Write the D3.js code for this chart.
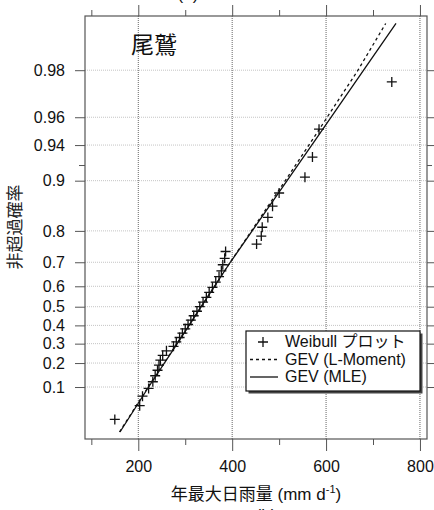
<!DOCTYPE html>
<meta charset="utf-8">
<title>尾鷲 年最大日雨量</title>
<script src="https://d3js.org/d3.v7.min.js"></script>
<style>
body { margin: 0; background: #fff; }
svg { display: block; font-family: "Liberation Sans", Arial, "Noto Sans CJK JP", sans-serif; }
text { fill: #111; }
.tick line { stroke: #555; }
</style>
<svg id="chart" width="434" height="510"></svg>
<script>
// Weibull plotting positions i/(n+1), n = 41, and the sorted annual maxima
var weibullProb = [0.0238, 0.0476, 0.0714, 0.0952, 0.1190, 0.1429, 0.1667, 0.1905, 0.2143, 0.2381,
    0.2619, 0.2857, 0.3095, 0.3333, 0.3571, 0.3810, 0.4048, 0.4286, 0.4524, 0.4762,
    0.5000, 0.5238, 0.5476, 0.5714, 0.5952, 0.6190, 0.6429, 0.6667, 0.6905, 0.7143,
    0.7381, 0.7619, 0.7857, 0.8095, 0.8333, 0.8571, 0.8810, 0.9048, 0.9286, 0.9524, 0.9762];
var weibullRain = [150, 203, 209, 222, 231, 236, 241, 244, 247, 252,
    260, 275, 281, 288, 294, 300, 306, 312, 318, 325,
    331, 338, 345, 351, 358, 365, 372, 377, 380, 384,
    386, 452, 462, 464, 476, 486, 500, 555, 571, 585, 740];

// fitted GEV curves, read at a few probabilities
var fitProb = [0.011, 0.1, 0.3, 0.5, 0.7, 0.9, 0.95, 0.98, 0.99];
var lmomRain = [160, 221, 282, 334, 396, 513, 581, 668, 727];
var mleRain = [161, 222, 283, 334, 396, 517, 588, 680, 749];

// axis ticks
var yTickProb = [0.1, 0.2, 0.3, 0.4, 0.5, 0.6, 0.7, 0.8, 0.9, 0.94, 0.96, 0.98];
var yTickLabels = ['0.1', '0.2', '0.3', '0.4', '0.5', '0.6', '0.7', '0.8', '0.9', '0.94', '0.96', '0.98'];
var yMinorProb = [0.92];
var xMajor = [200, 400, 600, 800];
var xMinor = [100, 300, 500, 700];

var L = 85, R = 427, T = 16, B = 439;
var gumbel = function(p) { return -Math.log(-Math.log(p)); };
var x = d3.scaleLinear().domain([86.5, 815]).range([L, R]);
var y = d3.scaleLinear().domain([-1.611, 4.712]).range([B, T]);
var yp = function(p) { return y(gumbel(p)); };

var svg = d3.select('#chart');

svg.append('clipPath').attr('id', 'plot-clip')
    .append('rect').attr('x', L).attr('y', T).attr('width', R - L).attr('height', B - T);

// grid
svg.append('g').selectAll('line')
    .data(yTickProb)
    .enter().append('line')
    .attr('x1', L).attr('x2', R)
    .attr('y1', yp).attr('y2', yp)
    .attr('stroke', '#c4c4c4')
    .attr('stroke-dasharray', '1,1');
svg.append('g').selectAll('line')
    .data(xMajor)
    .enter().append('line')
    .attr('x1', x).attr('x2', x)
    .attr('y1', T).attr('y2', B)
    .attr('stroke', '#666')
    .attr('stroke-dasharray', '1,1');

// axes
function drawAxis(axis, tx, ty) {
    var g = svg.append('g').attr('transform', 'translate(' + tx + ',' + ty + ')').call(axis);
    g.select('.domain').remove();
    g.selectAll('text').attr('font-size', 16).attr('font-family', null);
    return g;
}
var yMajorVals = yTickProb.map(gumbel);
drawAxis(d3.axisLeft(y).tickValues(yMajorVals).tickSize(10).tickPadding(10)
    .tickFormat(function(d, i) { return yTickLabels[i]; }), L, 0);
drawAxis(d3.axisLeft(y).tickValues(yMinorProb.map(gumbel)).tickSize(6).tickFormat(''), L, 0);
drawAxis(d3.axisRight(y).tickValues(yMajorVals).tickSize(9).tickFormat(''), R, 0);
drawAxis(d3.axisRight(y).tickValues(yMinorProb.map(gumbel)).tickSize(5).tickFormat(''), R, 0);
drawAxis(d3.axisBottom(x).tickValues(xMajor).tickSize(12).tickPadding(9.5).tickFormat(d3.format('d')), 0, B);
drawAxis(d3.axisBottom(x).tickValues(xMinor).tickSize(6).tickFormat(''), 0, B);
drawAxis(d3.axisTop(x).tickValues(xMajor).tickSize(11).tickFormat(''), 0, T);
drawAxis(d3.axisTop(x).tickValues(xMinor).tickSize(6).tickFormat(''), 0, T);

// frame
svg.append('rect')
    .attr('x', L).attr('y', T).attr('width', R - L).attr('height', B - T)
    .attr('fill', 'none').attr('stroke', '#555').attr('stroke-width', 1.2);

// fitted curves
var plot = svg.append('g').attr('clip-path', 'url(#plot-clip)');
var line = d3.line()
    .x(function(d) { return x(d[0]); })
    .y(function(d) { return yp(d[1]); });
plot.append('path')
    .datum(d3.zip(lmomRain, fitProb))
    .attr('d', line)
    .attr('fill', 'none').attr('stroke', '#111').attr('stroke-width', 1.3)
    .attr('stroke-dasharray', '3,3');
plot.append('path')
    .datum(d3.zip(mleRain, fitProb))
    .attr('d', line)
    .attr('fill', 'none').attr('stroke', '#111').attr('stroke-width', 1.3);

// Weibull plot
function plusPath(s) { return 'M' + (-s) + ',0H' + s + 'M0,' + (-s) + 'V' + s; }
plot.selectAll('.pt')
    .data(d3.zip(weibullRain, weibullProb))
    .enter().append('path')
    .attr('class', 'pt')
    .attr('transform', function(d) { return 'translate(' + x(d[0]) + ',' + yp(d[1]) + ')'; })
    .attr('d', plusPath(5))
    .attr('stroke', '#111').attr('stroke-width', 1.3).attr('fill', 'none');

// station name
svg.append('text').attr('x', 131).attr('y', 53).attr('font-size', 23).text('尾鷲');

// legend
var lg = svg.append('g').attr('transform', 'translate(246,331)');
lg.append('rect').attr('x', 2.5).attr('y', 2.5).attr('width', 174).attr('height', 60).attr('fill', '#444');
lg.append('rect').attr('x', 0).attr('y', 0).attr('width', 174).attr('height', 60)
    .attr('fill', '#fff').attr('stroke', '#111').attr('stroke-width', 1.2);
lg.append('path').attr('transform', 'translate(17,11)').attr('d', plusPath(5))
    .attr('stroke', '#111').attr('stroke-width', 1.3);
lg.append('line').attr('x1', 4).attr('x2', 32).attr('y1', 28.5).attr('y2', 28.5)
    .attr('stroke', '#111').attr('stroke-width', 1.3).attr('stroke-dasharray', '3,3');
lg.append('line').attr('x1', 4).attr('x2', 32).attr('y1', 46).attr('y2', 46)
    .attr('stroke', '#111').attr('stroke-width', 1.3);
var legendText = ['Weibull プロット', 'GEV (L-Moment)', 'GEV (MLE)'];
lg.selectAll('.lt')
    .data(legendText)
    .enter().append('text')
    .attr('class', 'lt')
    .attr('x', 39)
    .attr('y', function(d, i) { return 16 + i * 17.5; })
    .attr('font-size', 16)
    .text(function(d) { return d; });

// axis titles
var xt = svg.append('text').attr('x', 256).attr('y', 500).attr('text-anchor', 'middle').attr('font-size', 17);
xt.append('tspan').text('年最大日雨量 (mm d');
xt.append('tspan').attr('dy', -7).attr('font-size', 11).text('-1');
xt.append('tspan').attr('dy', 7).text(')');

svg.append('text')
    .attr('transform', 'translate(21,227) rotate(-90)')
    .attr('text-anchor', 'middle')
    .attr('font-size', 17)
    .style('fill', '#222')
    .text('非超過確率');

// panel labels cut by the page edge, as in the source figure
svg.append('text').attr('x', 188).attr('y', 0).attr('text-anchor', 'middle').attr('font-size', 17).text('(a)');
svg.append('text').attr('x', 266).attr('y', 521).attr('text-anchor', 'middle').attr('font-size', 17).text('(b)');
</script>
